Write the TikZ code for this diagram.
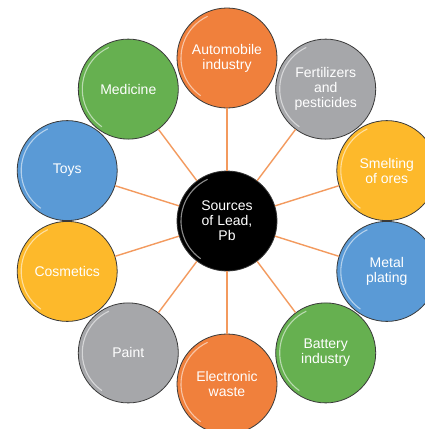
\documentclass[tikz,border=0pt]{standalone}
\usepackage{fontspec}
\newfontfamily\arialf{Liberation Sans}
\definecolor{orangeC}{HTML}{F0803C}
\definecolor{grayC}{HTML}{A6A7AA}
\definecolor{yellowC}{HTML}{FDB92B}
\definecolor{blueC}{HTML}{5A9AD6}
\definecolor{greenC}{HTML}{66B050}
\definecolor{lineC}{HTML}{F39A5E}
\definecolor{rimC}{HTML}{3A3A3A}
\begin{document}
\begin{tikzpicture}[x=1pt,y=1pt,
  bubble/.style={circle, minimum size=100pt, inner sep=0pt, draw=rimC, line width=0.8pt,
    text=white, align=center, font=\arialf\fontsize{14}{15}\selectfont,
    path picture={\draw[white, opacity=0.55, line width=1.1pt]
      ([shift={(115:46pt)}]path picture bounding box.center) arc (115:235:46pt);}},
  hub/.style={bubble, fill=black, draw=black!80},
  conn/.style={draw=lineC, line width=1.4pt}]
\useasboundingbox (0,0) rectangle (425,-429);
\fill[white] (0,0) rectangle (425,-429);
% outer bubbles
\node[bubble, fill=orangeC] (auto) at (227,-58) {Automobile\\industry};
\node[bubble, fill=grayC] (fert) at (325.7,-89.1) {Fertilizers\\and\\pesticides};
\node[bubble, fill=yellowC] (smelt) at (386.8,-170.6) {Smelting\\of ores};
\node[bubble, fill=blueC] (metal) at (386.8,-271.4) {Metal\\plating};
\node[bubble, fill=greenC] (batt) at (325.7,-352.9) {Battery\\industry};
\node[bubble, fill=orangeC] (elec) at (227,-384) {Electronic\\waste};
\node[bubble, fill=grayC] (paint) at (128.3,-352.9) {Paint};
\node[bubble, fill=yellowC] (cosm) at (67.2,-271.4) {Cosmetics};
\node[bubble, fill=blueC] (toys) at (67.2,-170.6) {Toys};
\node[bubble, fill=greenC] (med) at (128.3,-89.1) {Medicine};
% hub
\node[hub] (hub) at (227,-221) {Sources\\of Lead,\\Pb};
% connectors
\foreach \n in {auto,fert,smelt,metal,batt,elec,paint,cosm,toys,med}
  \draw[conn] (hub) -- (\n);
\end{tikzpicture}
\end{document}
